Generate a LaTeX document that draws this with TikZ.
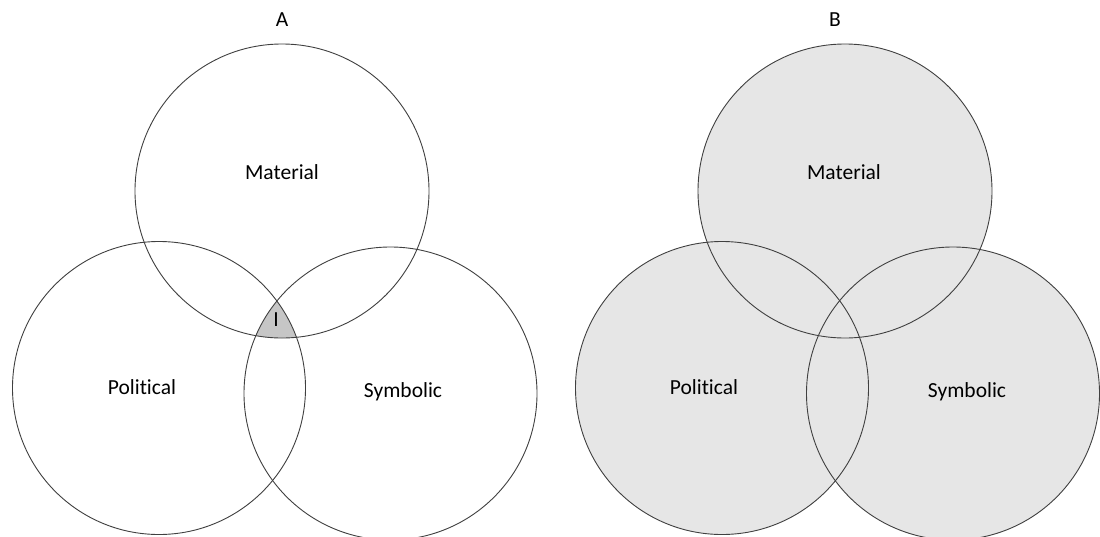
\documentclass[tikz,border=0pt]{standalone}
\usepackage{fontspec}
\setmainfont{Carlito}[Ligatures=NoCommon]
\definecolor{linegray}{HTML}{404040}
\definecolor{coregray}{HTML}{C6C6C6}
\definecolor{fillB}{HTML}{E6E6E6}
\begin{document}
\begin{tikzpicture}[x=1pt,y=-1pt,
  ring/.style={circle, draw=linegray, line width=0.9pt, minimum size=293pt, inner sep=0pt},
  lbl/.style={font=\fontsize{21.5}{25}\selectfont, text=black, inner sep=0pt}]
\useasboundingbox (0,0) rectangle (1100,536);
\fill[white] (0,0) rectangle (1100,536);
% Panel A
\begin{scope}
  \clip (282,191) circle[radius=147pt];
  \clip (159,388) circle[radius=146.5pt];
  \fill[coregray] (390.5,393.5) circle[radius=146.5pt];
\end{scope}
\node[ring, minimum size=294pt] (matA) at (282,191) {};
\node[ring] (polA) at (159,388) {};
\node[ring] (symA) at (390.5,393.5) {};
\node[lbl] (titA) at (282,20) {A};
\node[lbl] (tmatA) at (282,172) {Material};
\node[lbl] (tpolA) at (142,387) {Political};
\node[lbl] (tsymA) at (403,392) {Symbolic};
\node[lbl] (tI) at (276,320) {I};
% Panel B
\fill[fillB] (845,191) circle[radius=147pt];
\fill[fillB] (722,388) circle[radius=146.5pt];
\fill[fillB] (953,393.5) circle[radius=146.5pt];
\node[ring, minimum size=294pt] (matB) at (845,191) {};
\node[ring] (polB) at (722,388) {};
\node[ring] (symB) at (953,393.5) {};
\node[lbl] (titB) at (835,20) {B};
\node[lbl] (tmatB) at (844,172) {Material};
\node[lbl] (tpolB) at (704,387) {Political};
\node[lbl] (tsymB) at (967,392) {Symbolic};
\end{tikzpicture}
\end{document}
